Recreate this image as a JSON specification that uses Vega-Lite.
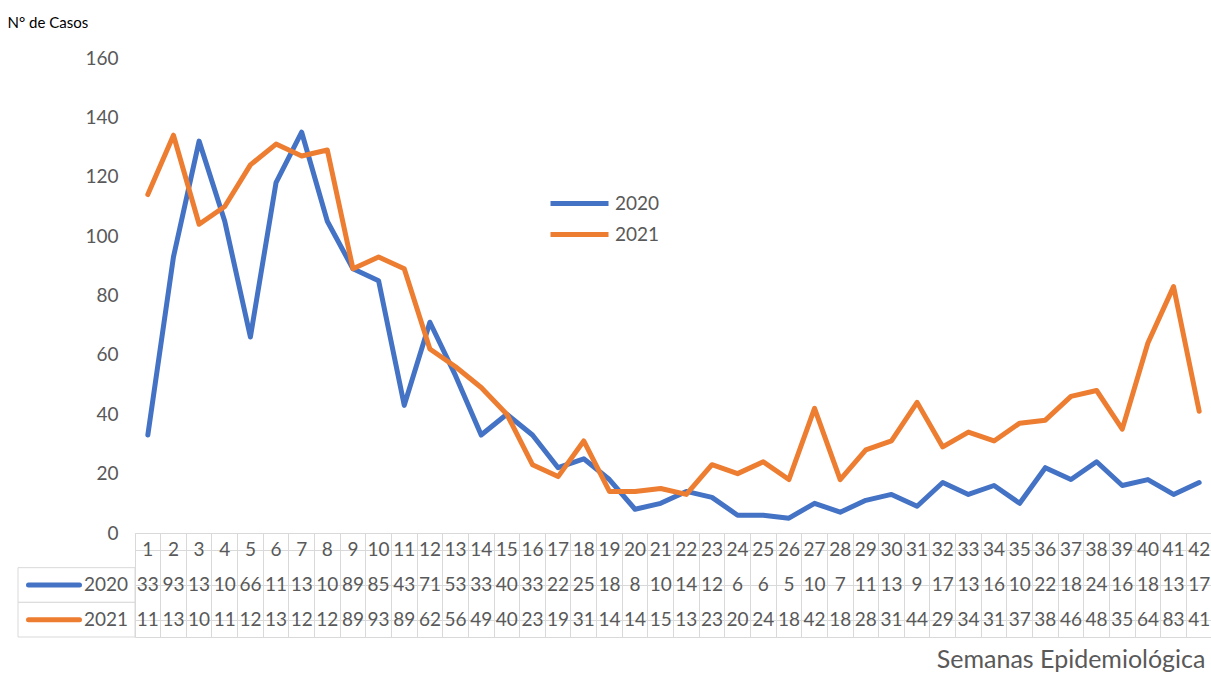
{
  "$schema": "https://vega.github.io/schema/vega-lite/v6.json",
  "background": "white",
  "padding": {"left": 7, "top": 15, "right": 0, "bottom": 0},
  "config": {"font": "Lato", "view": {"stroke": null}},
  "bounds": "flush",
  "columns": 2,
  "spacing": 0,
  "resolve": {"scale": {"color": "independent"}, "legend": {"color": "independent"}},
  "datasets": {
    "series": [{"year": "2020"}, {"year": "2021"}],
    "cases": [
      {"week": 1, "year": "2020", "cases": 33}, {"week": 2, "year": "2020", "cases": 93}, {"week": 3, "year": "2020", "cases": 132}, {"week": 4, "year": "2020", "cases": 105}, {"week": 5, "year": "2020", "cases": 66}, {"week": 6, "year": "2020", "cases": 118}, {"week": 7, "year": "2020", "cases": 135}, {"week": 8, "year": "2020", "cases": 105}, {"week": 9, "year": "2020", "cases": 89}, {"week": 10, "year": "2020", "cases": 85}, {"week": 11, "year": "2020", "cases": 43}, {"week": 12, "year": "2020", "cases": 71}, {"week": 13, "year": "2020", "cases": 53}, {"week": 14, "year": "2020", "cases": 33}, {"week": 15, "year": "2020", "cases": 40}, {"week": 16, "year": "2020", "cases": 33}, {"week": 17, "year": "2020", "cases": 22}, {"week": 18, "year": "2020", "cases": 25}, {"week": 19, "year": "2020", "cases": 18}, {"week": 20, "year": "2020", "cases": 8}, {"week": 21, "year": "2020", "cases": 10}, {"week": 22, "year": "2020", "cases": 14}, {"week": 23, "year": "2020", "cases": 12}, {"week": 24, "year": "2020", "cases": 6}, {"week": 25, "year": "2020", "cases": 6}, {"week": 26, "year": "2020", "cases": 5}, {"week": 27, "year": "2020", "cases": 10}, {"week": 28, "year": "2020", "cases": 7}, {"week": 29, "year": "2020", "cases": 11}, {"week": 30, "year": "2020", "cases": 13}, {"week": 31, "year": "2020", "cases": 9}, {"week": 32, "year": "2020", "cases": 17}, {"week": 33, "year": "2020", "cases": 13}, {"week": 34, "year": "2020", "cases": 16}, {"week": 35, "year": "2020", "cases": 10}, {"week": 36, "year": "2020", "cases": 22}, {"week": 37, "year": "2020", "cases": 18}, {"week": 38, "year": "2020", "cases": 24}, {"week": 39, "year": "2020", "cases": 16}, {"week": 40, "year": "2020", "cases": 18}, {"week": 41, "year": "2020", "cases": 13}, {"week": 42, "year": "2020", "cases": 17},
      {"week": 1, "year": "2021", "cases": 114}, {"week": 2, "year": "2021", "cases": 134}, {"week": 3, "year": "2021", "cases": 104}, {"week": 4, "year": "2021", "cases": 110}, {"week": 5, "year": "2021", "cases": 124}, {"week": 6, "year": "2021", "cases": 131}, {"week": 7, "year": "2021", "cases": 127}, {"week": 8, "year": "2021", "cases": 129}, {"week": 9, "year": "2021", "cases": 89}, {"week": 10, "year": "2021", "cases": 93}, {"week": 11, "year": "2021", "cases": 89}, {"week": 12, "year": "2021", "cases": 62}, {"week": 13, "year": "2021", "cases": 56}, {"week": 14, "year": "2021", "cases": 49}, {"week": 15, "year": "2021", "cases": 40}, {"week": 16, "year": "2021", "cases": 23}, {"week": 17, "year": "2021", "cases": 19}, {"week": 18, "year": "2021", "cases": 31}, {"week": 19, "year": "2021", "cases": 14}, {"week": 20, "year": "2021", "cases": 14}, {"week": 21, "year": "2021", "cases": 15}, {"week": 22, "year": "2021", "cases": 13}, {"week": 23, "year": "2021", "cases": 23}, {"week": 24, "year": "2021", "cases": 20}, {"week": 25, "year": "2021", "cases": 24}, {"week": 26, "year": "2021", "cases": 18}, {"week": 27, "year": "2021", "cases": 42}, {"week": 28, "year": "2021", "cases": 18}, {"week": 29, "year": "2021", "cases": 28}, {"week": 30, "year": "2021", "cases": 31}, {"week": 31, "year": "2021", "cases": 44}, {"week": 32, "year": "2021", "cases": 29}, {"week": 33, "year": "2021", "cases": 34}, {"week": 34, "year": "2021", "cases": 31}, {"week": 35, "year": "2021", "cases": 37}, {"week": 36, "year": "2021", "cases": 38}, {"week": 37, "year": "2021", "cases": 46}, {"week": 38, "year": "2021", "cases": 48}, {"week": 39, "year": "2021", "cases": 35}, {"week": 40, "year": "2021", "cases": 64}, {"week": 41, "year": "2021", "cases": 83}, {"week": 42, "year": "2021", "cases": 41}
    ]
  },
  "concat": [
    {
      "width": 117,
      "height": 475,
      "data": {"values": []},
      "mark": "point"
    },
    {
      "width": 1077,
      "height": 475,
      "data": {"name": "cases"},
      "mark": {"type": "line", "strokeWidth": 5, "strokeCap": "round", "strokeJoin": "round"},
      "encoding": {
        "x": {"field": "week", "type": "ordinal", "scale": {"type": "point", "padding": 0.5}, "axis": null},
        "y": {
          "field": "cases", "type": "quantitative",
          "scale": {"domain": [0, 160]},
          "axis": {
            "values": [0, 20, 40, 60, 80, 100, 120, 140, 160],
            "grid": false, "domain": false, "ticks": false, "tickSize": 0,
            "labelPadding": 17, "labelFontSize": 19, "labelColor": "#595959",
            "title": "N° de Casos", "titleAngle": 0, "titleAlign": "left", "titleBaseline": "middle",
            "titleX": -128, "titleY": -36, "titleFontSize": 15, "titleFontWeight": "normal", "titleColor": "#000000"
          }
        },
        "color": {
          "field": "year", "type": "nominal",
          "scale": {"domain": ["2020", "2021"], "range": ["#4472C4", "#ED7D31"]},
          "legend": {
            "orient": "none", "legendX": 413, "legendY": 130, "title": null,
            "symbolType": "stroke", "symbolSize": 3364, "symbolStrokeWidth": 5,
            "labelFontSize": 19, "labelColor": "#595959", "labelOffset": 4, "rowPadding": 0, "clipHeight": 31
          }
        }
      }
    },
    {
      "width": 117,
      "height": 104,
      "data": {"name": "series"},
      "encoding": {
        "y": {"field": "year", "type": "nominal", "scale": {"domain": ["w", "2020", "2021"], "paddingInner": 0, "paddingOuter": 0}, "axis": null}
      },
      "layer": [
        {"mark": {"type": "rect", "fill": "white", "stroke": "#D9D9D9", "strokeWidth": 1}},
        {
          "mark": {"type": "point", "shape": "M-0.96,0L0.06,0", "size": 10000, "filled": false, "strokeWidth": 5, "strokeCap": "round", "opacity": 1},
          "encoding": {
            "color": {"field": "year", "type": "nominal", "scale": {"domain": ["2020", "2021"], "range": ["#4472C4", "#ED7D31"]}, "legend": null}
          }
        },
        {
          "mark": {"type": "text", "align": "right", "dx": 51.5, "fontSize": 19, "color": "#595959"},
          "encoding": {"text": {"field": "year"}}
        }
      ]
    },
    {
      "width": 1077,
      "height": 104,
      "data": {"name": "cases"},
      "view": {"stroke": "#D9D9D9"},
      "encoding": {
        "x": {
          "field": "week", "type": "ordinal",
          "scale": {"type": "band", "paddingInner": 0, "paddingOuter": 0},
          "axis": {
            "grid": true, "gridColor": "#D9D9D9", "bandPosition": 0,
            "labels": false, "ticks": false, "domain": false,
            "title": "Semanas Epidemiológica", "titleFontSize": 25, "titleFontWeight": "normal", "titleColor": "#595959",
            "titleAlign": "right", "titleBaseline": "middle", "titleX": 1070, "titleY": 22
          }
        }
      },
      "layer": [
        {
          "transform": [{"filter": "datum.year === '2020'"}],
          "mark": {"type": "text", "fontSize": 19, "color": "#595959"},
          "encoding": {
            "y": {"datum": "w", "type": "nominal", "scale": {"domain": ["w", "2020", "2021"], "paddingInner": 0, "paddingOuter": 0},
              "axis": {"grid": true, "gridColor": "#D9D9D9", "bandPosition": 0, "labels": false, "ticks": false, "domain": false, "title": null}},
            "text": {"field": "week"}
          }
        },
        {
          "mark": {"type": "text", "fontSize": 19, "color": "#595959", "limit": 26, "ellipsis": "\u200b"},
          "encoding": {
            "y": {"field": "year", "type": "nominal", "scale": {"domain": ["w", "2020", "2021"], "paddingInner": 0, "paddingOuter": 0}},
            "text": {"field": "cases"}
          }
        }
      ]
    }
  ]
}
